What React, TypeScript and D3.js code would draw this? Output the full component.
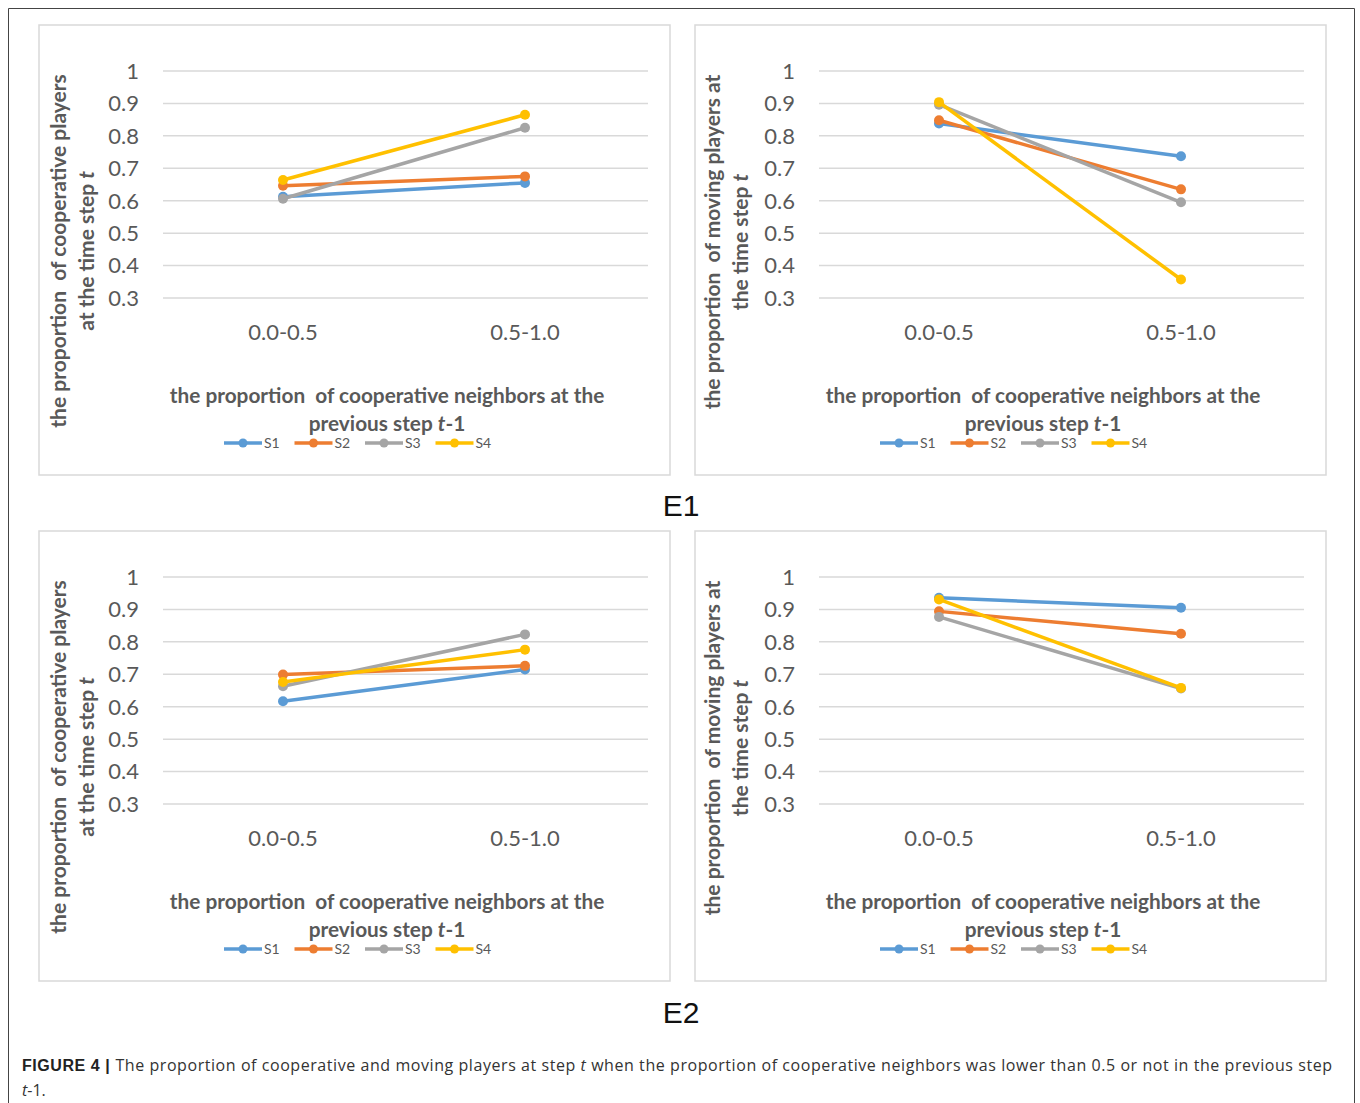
import React from "react";
import * as d3 from "d3";

const categories = ["0.0-0.5", "0.5-1.0"];
const seriesNames = ["S1", "S2", "S3", "S4"];
const seriesColors = ["#5B9BD5", "#ED7D31", "#A5A5A5", "#FFC000"];
const yTicks = [0.3, 0.4, 0.5, 0.6, 0.7, 0.8, 0.9, 1];

// values per series [S1, S2, S3, S4], each [0.0-0.5, 0.5-1.0]
const e1Cooperative = [
  [0.612, 0.655],
  [0.646, 0.675],
  [0.606, 0.825],
  [0.664, 0.865],
];
const e1Moving = [
  [0.838, 0.737],
  [0.848, 0.635],
  [0.896, 0.595],
  [0.904, 0.357],
];
const e2Cooperative = [
  [0.617, 0.715],
  [0.699, 0.726],
  [0.663, 0.823],
  [0.676, 0.776],
];
const e2Moving = [
  [0.936, 0.905],
  [0.894, 0.825],
  [0.877, 0.656],
  [0.931, 0.658],
];

const FONT = "Lato, 'Open Sans', sans-serif";
const TXT = "#595959";

type PanelProps = {
  x0: number;
  y0: number;
  data: number[][];
  yTitle1: string;
  yTitle2: string;
  yTitleX: number;
  yTitleCy: number;
};

function Panel({ x0, y0, data, yTitle1, yTitle2, yTitleX, yTitleCy }: PanelProps) {
  const y = d3.scaleLinear().domain([0.3, 1]).range([273, 46]);
  const x = d3.scalePoint<string>().domain(categories).range([244, 486]);
  const line = d3
    .line<number>()
    .x((_, i) => x(categories[i]) as number)
    .y((d) => y(d));
  const gridX1 = 124;
  const gridX2 = 609;
  return (
    <g transform={`translate(${x0},${y0})`}>
      <rect x={0} y={0} width={631} height={450} fill="#fff" stroke="#D9D9D9" strokeWidth={1.5} />
      {yTicks.map((t) => (
        <g key={t}>
          <line x1={gridX1} x2={gridX2} y1={y(t)} y2={y(t)} stroke="#D9D9D9" strokeWidth={1.5} />
          <text x={100} y={y(t)} dy="0.36em" textAnchor="end" fontFamily={FONT} fontSize={22} fill={TXT}>
            {d3.format("")(t)}
          </text>
        </g>
      ))}
      {categories.map((c) => (
        <text key={c} x={x(c)} y={307} dy="0.36em" textAnchor="middle" fontFamily={FONT} fontSize={22} fill={TXT}>
          {c}
        </text>
      ))}
      {data.map((vals, si) => (
        <g key={si}>
          <path d={line(vals) || ""} fill="none" stroke={seriesColors[si]} strokeWidth={3.5} />
          {vals.map((v, i) => (
            <circle key={i} cx={x(categories[i])} cy={y(v)} r={5} fill={seriesColors[si]} />
          ))}
        </g>
      ))}
      <text
        transform={`translate(${yTitleX},${yTitleCy}) rotate(-90)`}
        textAnchor="middle"
        fontFamily={FONT}
        fontSize={21}
        fontWeight="bold"
        fill={TXT}
        style={{ whiteSpace: "pre" }}
      >
        <tspan x={0} y={0}>{yTitle1}</tspan>
        <tspan x={0} y={28}>
          {yTitle2}
          <tspan fontStyle="italic">t</tspan>
        </tspan>
      </text>
      <text x={348} y={378} textAnchor="middle" fontFamily={FONT} fontSize={20.8} fontWeight="bold" fill={TXT} style={{ whiteSpace: "pre" }}>
        {"the proportion  of cooperative neighbors at the"}
      </text>
      <text x={348} y={406} textAnchor="middle" fontFamily={FONT} fontSize={20.8} fontWeight="bold" fill={TXT} style={{ whiteSpace: "pre" }}>
        {"previous step "}<tspan fontStyle="italic">t</tspan>-1
      </text>
      {seriesNames.map((s, i) => {
        const lx = 185 + i * 70.5;
        return (
          <g key={s}>
            <line x1={lx} x2={lx + 38} y1={418} y2={418} stroke={seriesColors[i]} strokeWidth={3.5} />
            <circle cx={lx + 19} cy={418} r={4.5} fill={seriesColors[i]} />
            <text x={lx + 40} y={418} dy="0.36em" fontFamily={FONT} fontSize={14} fill={TXT}>
              {s}
            </text>
          </g>
        );
      })}
    </g>
  );
}

export default function App() {
  return (
    <svg width={1360} height={1103} style={{ position: "absolute", left: 0, top: 0, background: "#fff" }}>
      <rect x={0} y={0} width={1360} height={1103} fill="#fff" />
      <path d="M8.5,1103 L8.5,8.5 L1354.5,8.5 L1354.5,1103" fill="none" stroke="#444" strokeWidth={1} />
      <Panel x0={39} y0={25} data={e1Cooperative} yTitle1="the proportion  of cooperative players" yTitle2="at the time step " yTitleX={27} yTitleCy={226} />
      <Panel x0={695} y0={25} data={e1Moving} yTitle1="the proportion  of moving players at" yTitle2="the time step " yTitleX={25} yTitleCy={217} />
      <Panel x0={39} y0={531} data={e2Cooperative} yTitle1="the proportion  of cooperative players" yTitle2="at the time step " yTitleX={27} yTitleCy={226} />
      <Panel x0={695} y0={531} data={e2Moving} yTitle1="the proportion  of moving players at" yTitle2="the time step " yTitleX={25} yTitleCy={217} />
      <text x={681} y={505} dy="0.36em" textAnchor="middle" fontFamily="'Liberation Sans', Arial, sans-serif" fontSize={30} fill="#111">
        E1
      </text>
      <text x={681} y={1012} dy="0.36em" textAnchor="middle" fontFamily="'Liberation Sans', Arial, sans-serif" fontSize={30} fill="#111">
        E2
      </text>
      <text x={22} y={1071} fontFamily="'Open Sans', 'Liberation Sans', sans-serif" fontSize={16} fill="#333" textLength={1310} lengthAdjust="spacing">
        <tspan fontWeight="bold" fontFamily="'Liberation Sans', Arial, sans-serif" fill="#222">FIGURE 4 | </tspan>
        The proportion of cooperative and moving players at step <tspan fontStyle="italic">t</tspan> when the proportion of cooperative neighbors was lower than 0.5 or not in the previous step
      </text>
      <text x={22} y={1096} fontFamily="'Open Sans', 'Liberation Sans', sans-serif" fontSize={16} fill="#333">
        <tspan fontStyle="italic">t</tspan>-1.
      </text>
    </svg>
  );
}
